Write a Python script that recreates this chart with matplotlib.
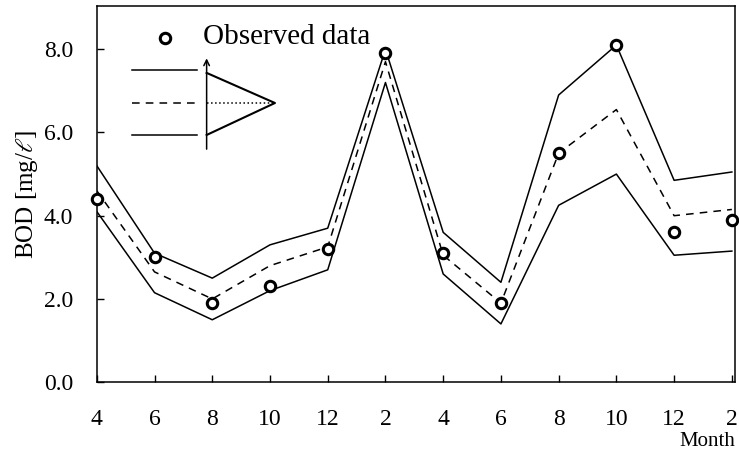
import matplotlib
matplotlib.use("Agg")
import matplotlib.pyplot as plt

plt.rcParams["font.family"] = ["Liberation Serif", "DejaVu Serif"]
plt.rcParams["mathtext.fontset"] = "stix"

months = ["4", "6", "8", "10", "12", "2", "4", "6", "8", "10", "12", "2"]
observed = [4.4, 3.0, 1.9, 2.3, 3.2, 7.9, 3.1, 1.9, 5.5, 8.1, 3.6, 3.9]
upper = [5.2, 3.1, 2.5, 3.3, 3.7, 8.0, 3.6, 2.4, 6.9, 8.1, 4.85, 5.05]
middle = [4.6, 2.65, 2.0, 2.8, 3.25, 7.7, 3.05, 1.9, 5.5, 6.55, 4.0, 4.15]
lower = [4.1, 2.15, 1.5, 2.2, 2.7, 7.2, 2.6, 1.4, 4.25, 5.0, 3.05, 3.15]
yticks = [0.0, 2.0, 4.0, 6.0, 8.0]

fig = plt.figure(figsize=(7.39, 4.55), dpi=100)
ax = fig.add_axes([0.131, 0.160, 0.864, 0.827])

x = list(range(len(months)))
ax.plot(x, upper, "k-", lw=1.1)
ax.plot(x, middle, "k--", lw=1.1, dashes=(5, 4))
ax.plot(x, lower, "k-", lw=1.1)
ax.plot(x, observed, "o", ms=7.5, mfc="white", mec="black", mew=2.2,
        clip_on=False, zorder=5)

ax.set_xlim(0, 11.06)
ax.set_ylim(0, 9.04)
ax.set_xticks(x)
ax.set_xticklabels(months)
ax.set_yticks(yticks)
ax.set_yticklabels([f"{v:.1f}" for v in yticks])
ax.tick_params(direction="in", length=5, width=1, labelsize=17)
ax.tick_params(axis="x", pad=19)
ax.tick_params(axis="y", pad=17)
for s in ax.spines.values():
    s.set_linewidth(1.1)

ax.set_ylabel(r"BOD [mg/$\ell$]", fontsize=18, labelpad=3)
ax.text(1.0, -0.158, "Month", transform=ax.transAxes, ha="right",
        va="center", fontsize=15)

# legend: observed marker
ax.plot([0.107], [0.915], "o", ms=7.5, mfc="white", mec="black", mew=2.2,
        transform=ax.transAxes)
ax.text(0.166, 0.918, "Observed data", transform=ax.transAxes,
        ha="left", va="center", fontsize=21)

# legend: band schematic
tr = ax.transAxes
ax.plot([0.055, 0.157], [0.830, 0.830], "k-", lw=1.1, transform=tr)
ax.plot([0.055, 0.157], [0.742, 0.742], "k--", lw=1.1, dashes=(5, 4),
        transform=tr)
ax.plot([0.055, 0.157], [0.657, 0.657], "k-", lw=1.1, transform=tr)
ax.annotate("", xy=(0.172, 0.868), xytext=(0.172, 0.612),
            xycoords=tr, textcoords=tr,
            arrowprops=dict(arrowstyle="->", lw=1.1, color="black"))
ax.plot([0.172, 0.279, 0.172], [0.822, 0.742, 0.657], "k-", lw=1.5,
        transform=tr)
ax.plot([0.172, 0.279], [0.742, 0.742], "k:", lw=1.1, transform=tr)

fig.savefig("out.png", dpi=100)
